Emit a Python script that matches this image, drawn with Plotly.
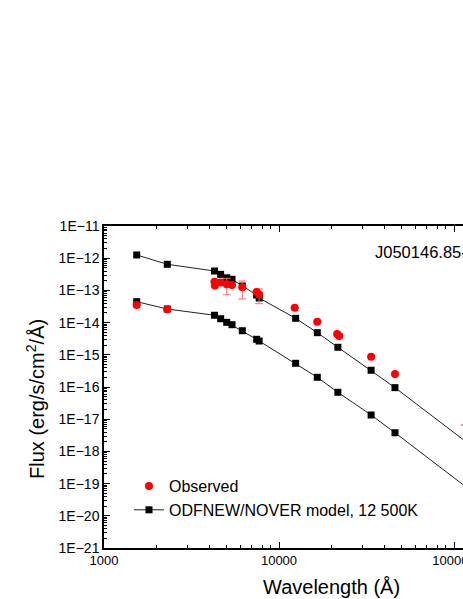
import plotly.graph_objects as go

# wavelengths (Angstrom) of the model SED points
wl_model = [1538, 2300, 4280, 4640, 5025, 5390, 6170, 7450, 7700,
            12450, 16550, 21700, 33600, 46000, 115600]
flux_model_hi = [1.26e-12, 6.46e-13, 4.0e-13, 3.15e-13, 2.46e-13, 2.21e-13, 1.37e-13, 7.2e-14, 5.8e-14,
                 1.36e-14, 4.86e-15, 1.71e-15, 3.31e-16, 9.55e-17, 2.1e-18]
flux_model_lo = [4.46e-14, 2.64e-14, 1.69e-14, 1.32e-14, 1.02e-14, 8.6e-15, 5.6e-15, 3.03e-15, 2.68e-15,
                 5.45e-16, 2.0e-16, 6.84e-17, 1.35e-17, 3.8e-18, 8.3e-20]

# observed photometry
wl_obs = [1538, 2300, 4280, 4300, 4640, 5025, 5390, 6170, 7450, 7700,
          12300, 16550, 21500, 22100, 33600, 46000, 115600]
flux_obs = [3.52e-14, 2.59e-14, 1.86e-13, 1.42e-13, 1.76e-13, 1.55e-13, 1.47e-13, 1.25e-13, 8.9e-14, 7.46e-14,
            2.9e-14, 1.07e-14, 4.43e-15, 3.84e-15, 8.73e-16, 2.54e-16, 6.6e-18]
err_obs = [None, None, None, None, None, 8.2e-14, None, 7.1e-14, None, 3.6e-14,
           None, None, None, None, None, None, None]

label_star = 'J050146.85-'
label_obs = 'Observed'
label_model = 'ODFNEW/NOVER model, 12 500K'

FONT = 'Arial, Liberation Sans, sans-serif'
PLOT_W = 359  # plot area runs to the window edge, like the cropped original

fig = go.Figure()
fig.add_trace(go.Scatter(x=wl_model, y=flux_model_hi, mode='lines+markers', name=label_model,
                         line=dict(color='#222222', width=1),
                         marker=dict(symbol='square', size=7, color='black'),
                         cliponaxis=False, legendrank=2))
fig.add_trace(go.Scatter(x=wl_model, y=flux_model_lo, mode='lines+markers', showlegend=False,
                         line=dict(color='#222222', width=1),
                         marker=dict(symbol='square', size=7, color='black'),
                         cliponaxis=False))
fig.add_trace(go.Scatter(x=wl_obs, y=flux_obs, mode='markers', name=label_obs,
                         marker=dict(symbol='circle', size=8, color='#ff0000'),
                         error_y=dict(type='data', array=err_obs, color='#f07070', thickness=1, width=4),
                         cliponaxis=False, legendrank=1))

axis_common = dict(showgrid=False, zeroline=False, showline=True, linecolor='black', linewidth=1.5,
                   ticks='inside', ticklen=6, tickwidth=1, tickcolor='black',
                   ticklabeloverflow='allow', automargin=False,
                   minor=dict(ticks='inside', ticklen=3, tickwidth=1, tickcolor='black', showgrid=False))

# top frame line with ticks, no right frame (it is cropped away in the original)
fig.update_xaxes(type='log', range=[3, 3 + PLOT_W / 175], dtick=1, tickformat='d', mirror='allticks',
                 tickfont=dict(family=FONT, size=13, color='black'), **axis_common)
fig.update_yaxes(type='log', range=[-21, -11], dtick=1, exponentformat='E',
                 tickfont=dict(family=FONT, size=14, color='black'), **axis_common)

fig.add_annotation(text=label_star, xref='paper', yref='paper', x=(373 - 104) / PLOT_W, y=0.92,
                   xanchor='left', yanchor='middle', showarrow=False,
                   font=dict(family=FONT, size=16.5, color='black'))
fig.add_annotation(text='Wavelength (Å)', xref='paper', yref='paper', x=(331 - 104) / PLOT_W, y=-0.121,
                   xanchor='center', yanchor='middle', showarrow=False,
                   font=dict(family=FONT, size=20, color='black'))
fig.add_annotation(text='Flux (erg/s/cm<sup>2</sup>/Å)', xref='paper', yref='paper',
                   x=(36 - 104) / PLOT_W, y=0.463,
                   xanchor='center', yanchor='middle', showarrow=False, textangle=-90,
                   font=dict(family=FONT, size=20, color='black'))

fig.update_layout(
    width=104 + PLOT_W, height=599,
    margin=dict(l=104, r=0, t=226, b=51),
    paper_bgcolor='white', plot_bgcolor='white',
    legend=dict(x=25 / PLOT_W, y=0.245, xanchor='left', yanchor='top', bgcolor='rgba(0,0,0,0)',
                font=dict(family=FONT, size=16, color='black'), tracegroupgap=0),
)

# the page is shown at exactly the figure size, so drop the default body margin
fig.write_html('out.html', config={'displayModeBar': False},
               post_script="document.body.style.margin='0';document.body.style.overflow='hidden';")
